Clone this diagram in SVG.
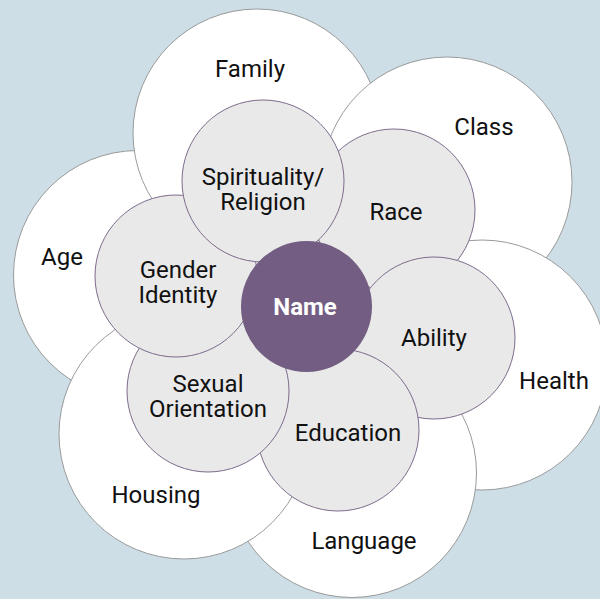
<svg xmlns="http://www.w3.org/2000/svg" width="600" height="599" viewBox="0 0 600 599">
<style>
.outer{fill:#ffffff;stroke:#9a9a9a;stroke-width:1}
.inner{fill:#e9e9e9;stroke:#7d6b8c;stroke-width:1}
.center{fill:#735d82}
text{font-family:Roboto,"Liberation Sans",sans-serif;font-size:24px;fill:#111111;text-anchor:middle}
.ct{font-weight:bold;fill:#ffffff}
</style>
<rect width="600" height="599" fill="#cddee6"/>
<g id="age"><circle class="outer" cx="138" cy="275" r="124.5"/><text x="62" y="265">Age</text></g>
<g id="family"><circle class="outer" cx="257" cy="133" r="124"/><text x="250" y="77">Family</text></g>
<g id="class"><circle class="outer" cx="447" cy="182" r="125"/><text x="484" y="135">Class</text></g>
<g id="health"><circle class="outer" cx="482" cy="365" r="125"/><text x="554" y="389">Health</text></g>
<g id="language"><circle class="outer" cx="352" cy="473" r="124.5"/><text x="364" y="549">Language</text></g>
<g id="housing"><circle class="outer" cx="184" cy="434" r="125"/><text x="156" y="503">Housing</text></g>
<g id="race"><circle class="inner" cx="394" cy="210" r="81"/><text x="396" y="220">Race</text></g>
<g id="ability"><circle class="inner" cx="434" cy="338" r="81"/><text x="434" y="346">Ability</text></g>
<g id="education"><circle class="inner" cx="338" cy="430" r="81"/><text x="348" y="441">Education</text></g>
<g id="sexual-orientation"><circle class="inner" cx="208" cy="391" r="81"/><text x="208" y="392">Sexual</text><text x="208" y="417">Orientation</text></g>
<g id="gender-identity"><circle class="inner" cx="176" cy="276" r="81"/><text x="178" y="278">Gender</text><text x="178" y="303">Identity</text></g>
<g id="spirituality"><circle class="inner" cx="263" cy="181" r="81"/><text x="263" y="185">Spirituality/</text><text x="263" y="210">Religion</text></g>
<g id="name"><circle class="center" cx="306.5" cy="306.5" r="65.5"/><text class="ct" x="305" y="315">Name</text></g>
<g id="connectors"/>
</svg>
